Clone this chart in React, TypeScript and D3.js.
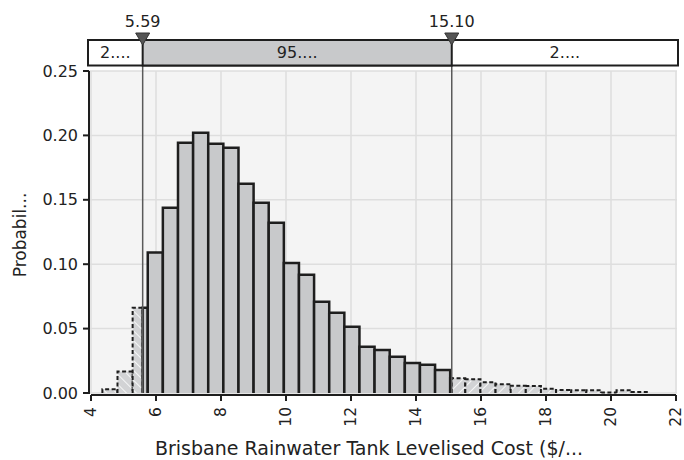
import React from "react";
import * as d3 from "d3";

const binEdges = [4.350, 4.815, 5.281, 5.746, 6.211, 6.677, 7.142, 7.607, 8.072, 8.538, 9.003, 9.468, 9.934, 10.399, 10.864, 11.330, 11.795, 12.260, 12.725, 13.191, 13.656, 14.121, 14.587, 15.052, 15.517, 15.983, 16.448, 16.913, 17.378, 17.844, 18.309, 18.774, 19.240, 19.705, 20.170, 20.636, 21.101];
const densities = [0.0029, 0.0166, 0.0662, 0.1090, 0.1439, 0.1943, 0.2021, 0.1936, 0.1905, 0.1625, 0.1477, 0.1322, 0.1009, 0.0919, 0.0709, 0.0623, 0.0515, 0.0359, 0.0334, 0.0282, 0.0233, 0.0220, 0.0179, 0.0114, 0.0106, 0.0083, 0.0068, 0.0057, 0.0054, 0.0033, 0.0023, 0.0022, 0.0021, 0.0004, 0.0022, 0.0007];
const xTicks = [4, 6, 8, 10, 12, 14, 16, 18, 20, 22];
const yTicks = [0, 0.05, 0.1, 0.15, 0.2, 0.25];
const markers = [5.59, 15.10];
const markerLabels = ["5.59", "15.10"];
const bandLabels = ["2....", "95....", "2...."];
const xTitle = "Brisbane Rainwater Tank Levelised Cost ($/...";
const yTitle = "Probabil...";

const W = 684, H = 460;
const FONT = "'DejaVu Sans', Verdana, sans-serif";

export default function App() {
  const x = d3.scaleLinear().domain([4, 22]).range([91, 676]);
  const y = d3.scaleLinear().domain([0, 0.25]).range([393, 71]);
  const plotL = 89, plotR = 677, plotT = 71, plotB = 393;
  const bandT = 40, bandB = 65.5, bandL = 88, bandR = 678;
  const [lo, hi] = markers;
  const xlo = x(lo), xhi = x(hi);

  const bars = densities.map((d, i) => ({ x0: binEdges[i], x1: binEdges[i + 1], d }));

  const pieces: { a: number; b: number; d: number; kind: "L" | "M" | "R" }[] = [];
  bars.forEach((bar) => {
    const segs: [number, number, "L" | "M" | "R"][] = [
      [bar.x0, Math.min(bar.x1, lo), "L"],
      [Math.max(bar.x0, lo), Math.min(bar.x1, hi), "M"],
      [Math.max(bar.x0, hi), bar.x1, "R"],
    ];
    segs.forEach(([a, b, k]) => {
      if (b > a) pieces.push({ a, b, d: bar.d, kind: k });
    });
  });

  return (
    <svg width={W} height={H} style={{ position: "absolute", left: 0, top: 0, background: "#fff" }} fontFamily={FONT}>
      <defs>
        <pattern id="hatchL" patternUnits="userSpaceOnUse" width="7" height="7" patternTransform="rotate(-45)">
          <rect width="7" height="7" fill="#d2d3d5" />
          <line x1="0" y1="0" x2="0" y2="7" stroke="#ffffff" strokeWidth="1.6" />
        </pattern>
        <pattern id="hatchR" patternUnits="userSpaceOnUse" width="7" height="7" patternTransform="rotate(45)">
          <rect width="7" height="7" fill="#d2d3d5" />
          <line x1="0" y1="0" x2="0" y2="7" stroke="#ffffff" strokeWidth="1.6" />
        </pattern>
      </defs>

      {/* plot background */}
      <rect x={plotL} y={plotT} width={plotR - plotL} height={plotB - plotT} fill="#f4f4f4" />
      {xTicks.map((t) => (
        <line key={"gx" + t} x1={x(t)} x2={x(t)} y1={plotT} y2={plotB} stroke="#dedede" strokeWidth={1.5} />
      ))}
      {yTicks.map((t) => (
        <line key={"gy" + t} x1={plotL} x2={plotR} y1={y(t)} y2={y(t)} stroke="#dedede" strokeWidth={1.5} />
      ))}

      {/* bars */}
      {pieces.map((p, i) => {
        const hatched = p.kind !== "M";
        const x0 = x(p.a), x1 = x(p.b), yt = y(p.d);
        return (
          <g key={"b" + i}>
            <rect x={x0} y={yt} width={x1 - x0} height={y(0) - yt}
              fill={hatched ? (p.kind === "L" ? "url(#hatchL)" : "url(#hatchR)") : "#c8c9cb"} />
            <path
              d={`M${x0},${y(0)}V${yt}H${x1}V${y(0)}`}
              fill="none"
              stroke="#1e1e1e"
              strokeWidth={hatched ? 2 : 2.5}
              strokeDasharray={hatched ? "4,2.5" : undefined}
            />
          </g>
        );
      })}

      {/* marker lines */}
      {markers.map((m, i) => (
        <line key={"ml" + i} x1={x(m)} x2={x(m)} y1={bandT} y2={plotB} stroke="#5a5a5a" strokeWidth={1.5} />
      ))}

      {/* y axis */}
      <line x1={plotL} x2={plotL} y1={plotT} y2={plotB + 1} stroke="#1e1e1e" strokeWidth={2} />
      {yTicks.map((t) => (
        <g key={"yt" + t}>
          <line x1={plotL - 6} x2={plotL} y1={y(t)} y2={y(t)} stroke="#1e1e1e" strokeWidth={2} />
          <text x={78} y={y(t)} dy="0.35em" textAnchor="end" fontSize={16} fill="#222">
            {d3.format(".2f")(t)}
          </text>
        </g>
      ))}
      <text transform={`translate(20,235) rotate(-90)`} textAnchor="middle" dy="0.35em" fontSize={17} fill="#222">
        {yTitle}
      </text>

      {/* x axis */}
      <line x1={x(4)} x2={x(22)} y1={395} y2={395} stroke="#1e1e1e" strokeWidth={2} />
      {xTicks.map((t) => (
        <g key={"xt" + t}>
          <line x1={x(t)} x2={x(t)} y1={395} y2={401} stroke="#1e1e1e" strokeWidth={2} />
          <text transform={`translate(${x(t)},${407}) rotate(-90)`} textAnchor="end" dy="0.35em" fontSize={15.5} fill="#222">
            {t}
          </text>
        </g>
      ))}
      <text x={369} y={455} textAnchor="middle" fontSize={19} fill="#222">
        {xTitle}
      </text>

      {/* top band */}
      <rect x={bandL} y={bandT} width={bandR - bandL} height={bandB - bandT} fill="#fff" stroke="#1e1e1e" strokeWidth={2} />
      <rect x={xlo} y={bandT} width={xhi - xlo} height={bandB - bandT} fill="#c8c9cb" stroke="#1e1e1e" strokeWidth={2} />
      {[ [bandL, xlo], [xlo, xhi], [xhi, bandR] ].map(([a, b], i) => (
        <text key={"bl" + i} x={(a + b) / 2} y={(bandT + bandB) / 2} dy="0.35em" textAnchor="middle" fontSize={16} fill="#222">
          {bandLabels[i]}
        </text>
      ))}
      {markers.map((m, i) => (
        <g key={"mk" + i}>
          <path d={`M${x(m) - 7},${33}L${x(m) + 7},${33}L${x(m)},${45}Z`} fill="#555" stroke="#333" strokeWidth={1} />
          <text x={x(m)} y={27} textAnchor="middle" fontSize={16} fill="#222">{markerLabels[i]}</text>
        </g>
      ))}
    </svg>
  );
}
